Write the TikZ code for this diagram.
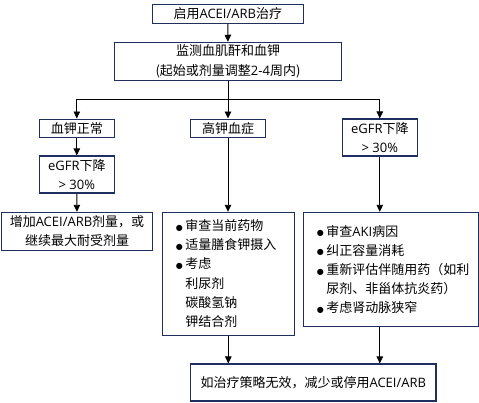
\documentclass[tikz,border=0pt]{standalone}
\usepackage{fontspec}
\usepackage{graphicx}
\setmainfont{Noto Sans CJK SC}
\newfontfamily\lat{Open Sans}
\newfontfamily\dv{DejaVu Sans}
\usetikzlibrary{arrows.meta,calc}
\definecolor{navy}{HTML}{1F2F5F}
\newcommand{\la}[1]{{\lat #1}}
\newcommand{\bu}{\makebox[9.5pt][l]{\raisebox{0.5pt}{\dv\fontsize{8pt}{8pt}\selectfont ●}}}
\newcommand{\nb}{\hspace*{9.5pt}}
\begin{document}
\begin{tikzpicture}[x=1pt,y=-1pt,
  box/.style={draw=navy,line width=1.1pt,inner sep=0pt,align=center,font=\fontsize{13pt}{19.5pt}\selectfont},
  txt/.style={inner sep=0pt,anchor=west,font=\fontsize{13pt}{19.2pt}\selectfont},
  arr/.style={-{Triangle[width=6.5pt,length=7pt]},line width=0.9pt},
  ln/.style={line width=0.9pt}]
\useasboundingbox (0,0) rectangle (479,402);
\node[box,minimum width=151pt,minimum height=19pt] (top) at (227.8,13.8) {启用\la{ACEI/ARB}治疗};
\node[box,minimum width=226.6pt,minimum height=38pt] (mon) at (228,61.3) {监测血肌酐和血钾\\(起始或剂量调整\la{2-4}周内)};
\coordinate (split) at (228,99.3);
\node[box,minimum width=75pt,minimum height=18.3pt] (n1) at (76.8,128.2) {血钾正常};
\node[box,minimum width=74.6pt,minimum height=18.3pt] (n2) at (228,128.2) {高钾血症};
\node[box,minimum width=75pt,minimum height=37pt] (n3) at (379.8,137.5) {\la{eGFR}下降\\\la{> 30\%}};
\node[box,minimum width=75pt,minimum height=37pt] (n1b) at (76.8,174.5) {\la{eGFR}下降\\\la{> 30\%}};
\node[box,minimum width=150.6pt,minimum height=37.7pt] (n1c) at (77,231.2) {增加\la{ACEI/ARB}剂量，或\\继续最大耐受剂量};
\node[box,minimum width=132pt,minimum height=122.7pt] (mid) at (228.3,273.7) {};
\node[txt] (midtxt) at ($(mid.west)+(14,1)$) {\begin{tabular}{@{}l@{}}\bu 审查当前药物\\ \bu 适量膳食钾摄入\\ \bu 考虑\\ \nb 利尿剂\\ \nb 碳酸氢钠\\ \nb 钾结合剂\end{tabular}};
\node[box,minimum width=175pt,minimum height=113.7pt] (rt) at (390.8,269.2) {};
\node[txt] (rttxt) at ($(rt.west)+(14,1.5)$) {\begin{tabular}{@{}l@{}}\bu 审查\la{AKI}病因\\ \bu 纠正容量消耗\\ \bu 重新评估伴随用药（如利\\ \nb 尿剂、非甾体抗炎药）\\ \bu 考虑肾动脉狭窄\end{tabular}};
\node[box,minimum width=245.3pt,minimum height=37pt] (bot) at (313.3,382.5) {如治疗策略无效，减少或停用\la{ACEI/ARB}};
\draw[arr] (top) -- (mon);
\draw[ln] (mon.south) -- (split);
\draw[ln] (split -| n1) -- (split -| n3);
\draw[arr] (split -| n1) -- (n1.north);
\draw[arr] (split) -- (n2.north);
\draw[arr] (split -| n3) -- (n3.north);
\draw[arr] (n1) -- (n1b);
\draw[arr] (n1b) -- (n1c);
\draw[arr] (n2.south) -- (n2.south |- mid.north);
\draw[arr] (n3.south) -- (n3.south |- rt.north);
\draw[arr] (mid.south) -- (mid.south |- bot.north);
\draw[arr] (rt.south -| n3.south) -- (n3.south |- bot.north);
\end{tikzpicture}
\end{document}
